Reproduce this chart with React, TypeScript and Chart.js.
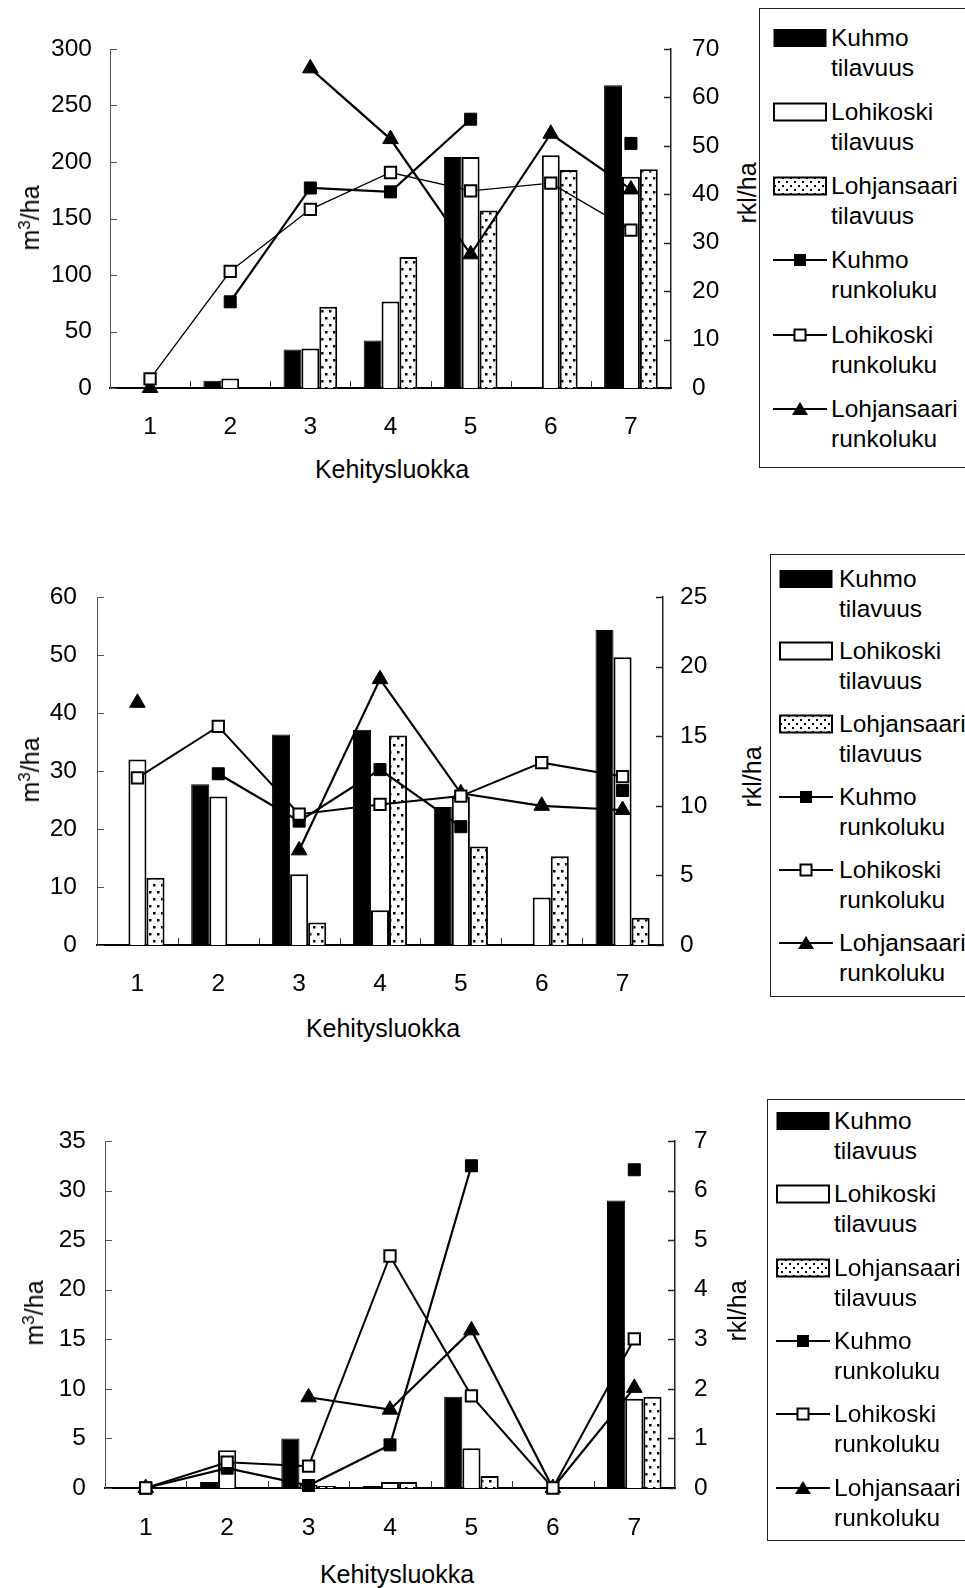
import React, { useEffect, useRef } from "react";
import { Chart, registerables } from "chart.js";

Chart.register(...registerables);

const FONT = '"Liberation Sans", Arial, Helvetica, sans-serif';

// Development classes on the x axis
const categories = ["1", "2", "3", "4", "5", "6", "7"];

// Upper chart: volume (m³/ha) and stem count (rkl/ha)
const p1KuhmoVolume = [0, 6.5, 34, 42, 204.5, 0, 268];
const p1LohikoskiVolume = [0, 8.5, 35, 76.5, 204.5, 206, 187];
const p1LohjansaariVolume = [0, 0, 72, 116, 157, 193, 193.5];
const p1KuhmoStems = [null, 17.8, 41.3, 40.5, 55.5, null, 50.5];
const p1LohikoskiStems = [1.9, 24.1, 36.9, 44.5, 40.7, 42.3, 32.6];
const p1LohjansaariStems = [0, null, 66, 51.4, 27.6, 52.5, 41];

// Middle chart
const p2KuhmoVolume = [0, 27.7, 36.3, 37.1, 23.8, 0, 54.3];
const p2LohikoskiVolume = [32, 25.6, 12.2, 6, 25.5, 8.2, 49.6];
const p2LohjansaariVolume = [11.6, 0, 3.9, 36.1, 17, 15.3, 4.7];
const p2KuhmoStems = [null, 12.3, 8.9, 12.6, 8.5, null, 11.1];
const p2LohikoskiStems = [12, 15.7, 9.4, 10.1, 10.7, 13.1, 12.1];
const p2LohjansaariStems = [17.4, null, 6.8, 19.1, 10.9, 10, 9.7];

// Lower chart
const p3KuhmoVolume = [0, 0.6, 5, 0.2, 9.2, 0, 29];
const p3LohikoskiVolume = [0, 3.8, 0.3, 0.6, 4, 0, 9];
const p3LohjansaariVolume = [0, 0, 0.2, 0.6, 1.2, 0, 9.2];
const p3KuhmoStems = [0, 0.4, 0.05, 0.87, 6.5, null, 6.42];
const p3LohikoskiStems = [0, 0.52, 0.44, 4.68, 1.86, 0, 3.01];
const p3LohjansaariStems = [0, null, 1.83, 1.58, 3.18, 0, 2.02];

// Axis ranges (max, step) for the volume and stem-count axes
const p1VolumeAxis = [300, 50];
const p1StemAxis = [70, 10];
const p2VolumeAxis = [60, 10];
const p2StemAxis = [25, 5];
const p3VolumeAxis = [35, 5];
const p3StemAxis = [7, 1];

type Series = (number | null)[];

type PanelProps = {
  top: number;
  width: number;
  height: number;
  area: { left: number; right: number; top: number; bottom: number };
  volumeAxis: number[];
  stemAxis: number[];
  kuhmoVolume: Series;
  lohikoskiVolume: Series;
  lohjansaariVolume: Series;
  kuhmoStems: Series;
  lohikoskiStems: Series;
  lohjansaariStems: Series;
  leftPad: number;
  rightPad: number;
  xPad: number;
  lohikoskiLine: number;
};

// Black dots on white, rows staggered
function dotPattern(): CanvasPattern | string {
  const c = document.createElement("canvas");
  c.width = 8;
  c.height = 14;
  const g = c.getContext("2d");
  if (!g) return "#fff";
  g.fillStyle = "#fff";
  g.fillRect(0, 0, 8, 14);
  g.fillStyle = "#000";
  g.fillRect(1, 2, 2.5, 2.5);
  g.fillRect(5, 9, 2.5, 2.5);
  return g.createPattern(c, "repeat") || "#fff";
}

// Short tick marks drawn on the inner side of every axis
const innerTicks = {
  id: "innerTicks",
  beforeDatasetsDraw(chart: any) {
    const { ctx, chartArea: a, scales } = chart;
    const len = 7;
    ctx.save();
    const y = scales.y;
    const y1 = scales.y1;
    const x = scales.x;
    ctx.strokeStyle = "#555";
    ctx.lineWidth = 1;
    ctx.beginPath();
    y.ticks.forEach((t: any) => {
      const p = Math.round(y.getPixelForValue(t.value)) + 0.5;
      ctx.moveTo(a.left, p);
      ctx.lineTo(a.left + len, p);
    });
    ctx.stroke();
    ctx.strokeStyle = "#222";
    ctx.lineWidth = 1.5;
    ctx.beginPath();
    y1.ticks.forEach((t: any) => {
      const p = Math.round(y1.getPixelForValue(t.value)) + 0.5;
      ctx.moveTo(a.right - len, p);
      ctx.lineTo(a.right, p);
    });
    ctx.stroke();
    const half = (x.getPixelForValue(1) - x.getPixelForValue(0)) / 2;
    ctx.strokeStyle = "#333";
    ctx.lineWidth = 1;
    ctx.beginPath();
    for (let i = 1; i < categories.length; i++) {
      const p = Math.round(x.getPixelForValue(i) - half) + 0.5;
      ctx.moveTo(p, a.bottom);
      ctx.lineTo(p, a.bottom - len);
    }
    ctx.stroke();
    ctx.restore();
  },
};

function Panel(props: PanelProps) {
  const ref = useRef<HTMLCanvasElement | null>(null);
  useEffect(() => {
    if (!ref.current) return;
    const { width: W, height: H, area } = props;
    const tickFont = { family: FONT, size: 24.5 };
    const lineBase = {
      type: "line" as const,
      yAxisID: "y1",
      borderColor: "#000",
      tension: 0,
      fill: false,
      spanGaps: false,
      clip: false as const,
      order: 0,
      pointBorderColor: "#000",
    };
    const barBase = {
      type: "bar" as const,
      yAxisID: "y",
      borderColor: "#000",
      order: 1,
    };
    const chart = new Chart(ref.current, {
      type: "bar",
      data: {
        labels: categories,
        datasets: [
          {
            ...lineBase,
            label: "Lohikoski runkoluku",
            data: props.lohikoskiStems,
            borderWidth: props.lohikoskiLine,
            pointStyle: "rect",
            pointRadius: 8,
            pointBackgroundColor: "#fff",
            pointBorderWidth: 2,
          },
          {
            ...lineBase,
            label: "Kuhmo runkoluku",
            data: props.kuhmoStems,
            borderWidth: 2.2,
            pointStyle: "rect",
            pointRadius: 8.5,
            pointBackgroundColor: "#000",
            pointBorderWidth: 1,
          },
          {
            ...lineBase,
            label: "Lohjansaari runkoluku",
            data: props.lohjansaariStems,
            borderWidth: 2.2,
            pointStyle: "triangle",
            pointRadius: 9,
            pointBackgroundColor: "#000",
            pointBorderWidth: 1,
          },
          {
            ...barBase,
            label: "Kuhmo tilavuus",
            data: props.kuhmoVolume,
            backgroundColor: "#000",
            borderWidth: 1,
          },
          {
            ...barBase,
            label: "Lohikoski tilavuus",
            data: props.lohikoskiVolume,
            backgroundColor: "#fff",
            borderWidth: 2,
          },
          {
            ...barBase,
            label: "Lohjansaari tilavuus",
            data: props.lohjansaariVolume,
            backgroundColor: dotPattern(),
            borderWidth: 2,
          },
        ] as any,
      },
      options: {
        responsive: false,
        animation: false,
        events: [],
        layout: { padding: { top: area.top, left: 0, right: 0, bottom: 0 } },
        datasets: {
          bar: { categoryPercentage: 0.67, barPercentage: 1 },
        },
        plugins: {
          legend: { display: false },
          tooltip: { enabled: false },
        },
        scales: {
          x: {
            type: "category",
            offset: true,
            grid: { display: false, drawTicks: false },
            border: { display: true, color: "#000", width: 2 },
            ticks: { font: tickFont, color: "#000", padding: props.xPad, maxRotation: 0 },
            afterFit: (s: any) => {
              s.height = H - area.bottom;
            },
          },
          y: {
            position: "left",
            min: 0,
            max: props.volumeAxis[0],
            grid: { display: false, drawTicks: false },
            border: { display: true, color: "#555", width: 1 },
            ticks: {
              stepSize: props.volumeAxis[1],
              font: tickFont,
              color: "#000",
              padding: props.leftPad,
            },
            afterFit: (s: any) => {
              s.width = area.left;
            },
          },
          y1: {
            position: "right",
            min: 0,
            max: props.stemAxis[0],
            grid: { display: false, drawTicks: false },
            border: { display: true, color: "#222", width: 1.5 },
            ticks: {
              stepSize: props.stemAxis[1],
              font: tickFont,
              color: "#000",
              padding: props.rightPad,
            },
            afterFit: (s: any) => {
              s.width = W - area.right;
            },
          },
        },
      } as any,
      plugins: [innerTicks],
    });
    return () => chart.destroy();
  }, []);
  return (
    <canvas
      ref={ref}
      width={props.width}
      height={props.height}
      style={{ position: "absolute", left: 0, top: props.top, width: props.width, height: props.height }}
    />
  );
}

type TitleProps = { x: number; y: number; rotate?: boolean; children: React.ReactNode };

function AxisTitle({ x, y, rotate, children }: TitleProps) {
  return (
    <div
      style={{
        position: "absolute",
        left: x,
        top: y,
        transform: `translate(-50%, -50%)${rotate ? " rotate(-90deg)" : ""}`,
        whiteSpace: "nowrap",
        fontSize: 25,
        lineHeight: "30px",
        color: "#000",
      }}
    >
      {children}
    </div>
  );
}

function VolumeUnit() {
  return (
    <>
      m<sup style={{ fontSize: "0.68em", lineHeight: 0, verticalAlign: "0.55em" }}>3</sup>/ha
    </>
  );
}

type LegendProps = {
  id: string;
  left: number;
  top: number;
  height: number;
  padTop: number;
  spacing: number;
  symLeft: number;
  textLeft: number;
};

const legendEntries = [
  { kind: "barBlack", lines: ["Kuhmo", "tilavuus"] },
  { kind: "barWhite", lines: ["Lohikoski", "tilavuus"] },
  { kind: "barDots", lines: ["Lohjansaari", "tilavuus"] },
  { kind: "lineFilledSquare", lines: ["Kuhmo", "runkoluku"] },
  { kind: "lineOpenSquare", lines: ["Lohikoski", "runkoluku"] },
  { kind: "lineTriangle", lines: ["Lohjansaari", "runkoluku"] },
];

function LegendSymbol({ kind, id }: { kind: string; id: string }) {
  const w = 54;
  const h = 20;
  const pid = `dots-${id}`;
  let body: React.ReactNode = null;
  if (kind === "barBlack") {
    body = <rect x={0.5} y={1} width={w - 1} height={18} fill="#000" />;
  } else if (kind === "barWhite") {
    body = <rect x={1} y={1.5} width={w - 2} height={17} fill="#fff" stroke="#000" strokeWidth={2} />;
  } else if (kind === "barDots") {
    body = <rect x={1} y={1.5} width={w - 2} height={17} fill={`url(#${pid})`} stroke="#000" strokeWidth={2} />;
  } else {
    const line = <line x1={0} y1={10} x2={w} y2={10} stroke="#000" strokeWidth={2} />;
    let marker: React.ReactNode = null;
    if (kind === "lineFilledSquare") marker = <rect x={w / 2 - 6} y={4} width={12} height={12} fill="#000" />;
    if (kind === "lineOpenSquare")
      marker = <rect x={w / 2 - 5.5} y={4.5} width={11} height={11} fill="#fff" stroke="#000" strokeWidth={2} />;
    if (kind === "lineTriangle")
      marker = <polygon points={`${w / 2},3 ${w / 2 + 8},16 ${w / 2 - 8},16`} fill="#000" />;
    body = (
      <>
        {line}
        {marker}
      </>
    );
  }
  return (
    <svg width={w} height={h} style={{ display: "block" }}>
      <defs>
        <pattern id={pid} width={8} height={8} patternUnits="userSpaceOnUse">
          <rect width={8} height={8} fill="#fff" />
          <rect x={1} y={1} width={2} height={2} fill="#000" />
          <rect x={5} y={5} width={2} height={2} fill="#000" />
        </pattern>
      </defs>
      {body}
    </svg>
  );
}

function Legend(p: LegendProps) {
  return (
    <div
      style={{
        position: "absolute",
        left: p.left,
        top: p.top,
        width: 320,
        height: p.height,
        border: "1.5px solid #222",
        boxSizing: "border-box",
        background: "#fff",
      }}
    >
      {legendEntries.map((e, i) => {
        const t = p.padTop + i * p.spacing;
        return (
          <React.Fragment key={i}>
            <div style={{ position: "absolute", left: p.symLeft, top: t + 5 }}>
              <LegendSymbol kind={e.kind} id={`${p.id}-${i}`} />
            </div>
            <div
              style={{
                position: "absolute",
                left: p.textLeft,
                top: t,
                fontSize: 24.5,
                lineHeight: "30px",
                whiteSpace: "nowrap",
                color: "#000",
              }}
            >
              {e.lines[0]}
              <br />
              {e.lines[1]}
            </div>
          </React.Fragment>
        );
      })}
    </div>
  );
}

export default function App() {
  return (
    <div
      style={{
        position: "absolute",
        left: 0,
        top: 0,
        width: 965,
        height: 1588,
        overflow: "hidden",
        background: "#fff",
        fontFamily: FONT,
      }}
    >
      <Panel
        top={0}
        width={725}
        height={450}
        area={{ left: 110, right: 671, top: 49, bottom: 388 }}
        volumeAxis={p1VolumeAxis}
        stemAxis={p1StemAxis}
        kuhmoVolume={p1KuhmoVolume}
        lohikoskiVolume={p1LohikoskiVolume}
        lohjansaariVolume={p1LohjansaariVolume}
        kuhmoStems={p1KuhmoStems}
        lohikoskiStems={p1LohikoskiStems}
        lohjansaariStems={p1LohjansaariStems}
        leftPad={18}
        rightPad={21}
        xPad={25}
        lohikoskiLine={1.3}
      />
      <AxisTitle x={30} y={218} rotate>
        <VolumeUnit />
      </AxisTitle>
      <AxisTitle x={747} y={193} rotate>
        rkl/ha
      </AxisTitle>
      <AxisTitle x={392} y={469}>Kehitysluokka</AxisTitle>
      <Legend id="a" left={759} top={8} height={460} padTop={13.5} spacing={74.3} symLeft={13} textLeft={71} />

      <Panel
        top={560}
        width={725}
        height={445}
        area={{ left: 97, right: 663, top: 37, bottom: 385 }}
        volumeAxis={p2VolumeAxis}
        stemAxis={p2StemAxis}
        kuhmoVolume={p2KuhmoVolume}
        lohikoskiVolume={p2LohikoskiVolume}
        lohjansaariVolume={p2LohjansaariVolume}
        kuhmoStems={p2KuhmoStems}
        lohikoskiStems={p2LohikoskiStems}
        lohjansaariStems={p2LohjansaariStems}
        leftPad={20}
        rightPad={17}
        xPad={25}
        lohikoskiLine={2}
      />
      <AxisTitle x={30} y={770} rotate>
        <VolumeUnit />
      </AxisTitle>
      <AxisTitle x={752} y={777} rotate>
        rkl/ha
      </AxisTitle>
      <AxisTitle x={383} y={1028}>Kehitysluokka</AxisTitle>
      <Legend id="b" left={770} top={554} height={443} padTop={8.5} spacing={72.9} symLeft={8} textLeft={68} />

      <Panel
        top={1100}
        width={725}
        height={445}
        area={{ left: 105, right: 675, top: 41, bottom: 388 }}
        volumeAxis={p3VolumeAxis}
        stemAxis={p3StemAxis}
        kuhmoVolume={p3KuhmoVolume}
        lohikoskiVolume={p3LohikoskiVolume}
        lohjansaariVolume={p3LohjansaariVolume}
        kuhmoStems={p3KuhmoStems}
        lohikoskiStems={p3LohikoskiStems}
        lohjansaariStems={p3LohjansaariStems}
        leftPad={19}
        rightPad={19}
        xPad={26}
        lohikoskiLine={2}
      />
      <AxisTitle x={34} y={1313} rotate>
        <VolumeUnit />
      </AxisTitle>
      <AxisTitle x={737} y={1311} rotate>
        rkl/ha
      </AxisTitle>
      <AxisTitle x={397} y={1574}>Kehitysluokka</AxisTitle>
      <Legend id="c" left={767} top={1099} height={442} padTop={6} spacing={73.3} symLeft={8} textLeft={66} />
    </div>
  );
}
